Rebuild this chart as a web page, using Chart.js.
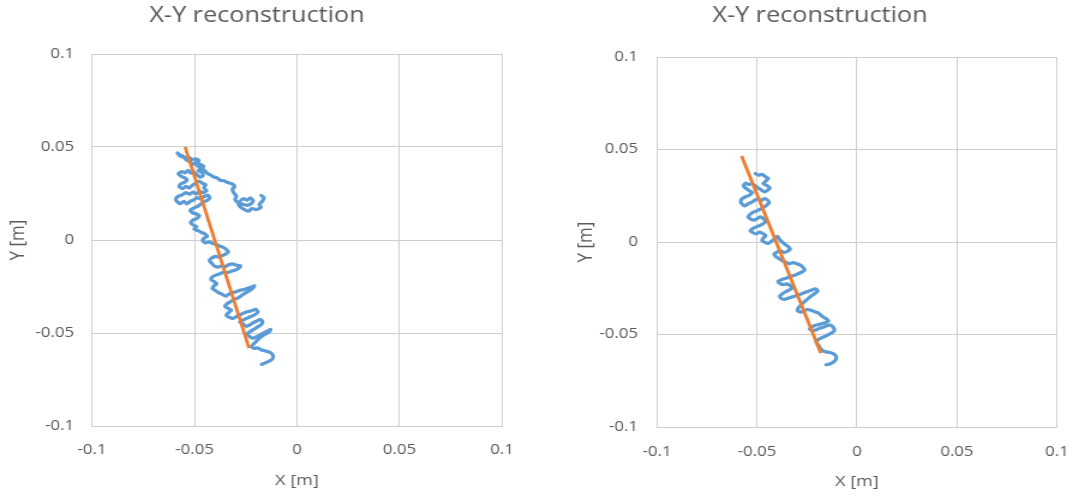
<!DOCTYPE html>
<html>
<head>
<meta charset="utf-8">
<script src="https://cdn.jsdelivr.net/npm/chart.js@4/dist/chart.umd.min.js"></script>
<style>
  html, body { margin: 0; padding: 0; background: #ffffff; }
  body { width: 1089px; height: 500px; position: relative; overflow: hidden; }
  .panel { position: absolute; top: 0; height: 500px; transform: scaleX(1.2); transform-origin: 0 0; }
  #panelA { left: 0; width: 450px; }
  #panelB { left: 545px; width: 453px; }
</style>
</head>
<body>
<div class="panel" id="panelA"><canvas id="chartA" width="450" height="500"></canvas></div>
<div class="panel" id="panelB"><canvas id="chartB" width="453" height="500"></canvas></div>
<script>
// Axis ticks (metres) and their labels
const tickValues = [-0.1, -0.05, 0, 0.05, 0.1];
const tickLabels = ['-0.1', '-0.05', '0', '0.05', '0.1'];
const chartTitle = 'X-Y reconstruction';
const xAxisTitle = 'X [m]';
const yAxisTitle = 'Y [m]';

// First run: reconstructed trajectory (millimetres)
const trackAX = [-17.5,-16.2,-16.8,-18.4,-17.6,-19.8,-22.1,-23.6,-25.4,-27.2,-28.5,-27.9,-26.1,-24.3,-22.8,-21.4,-22.6,-24.5,-26.8,-28.9,-30.2,-29.6,-30.8,-31.5,-30.4,-31.9,-33.8,-35.6,-37.4,-39.1,-40.7,-42.3,-43.8,-45.0,-46.4,-45.6,-47.1,-48.7,-47.9,-49.5,-51.3,-52.6,-54.2,-55.8,-57.4,-58.3,-57.0,-55.4,-54.1,-52.2,-50.8,-49.6,-48.5,-47.2,-48.1,-46.4,-45.9,-47.3,-48.9,-50.4,-51.8,-53.2,-54.6,-56.3,-57.9,-56.6,-55.0,-53.6,-54.9,-56.7,-57.5,-55.9,-54.2,-52.6,-51.1,-49.4,-47.8,-46.2,-44.6,-45.4,-44.1,-45.8,-47.5,-49.2,-50.8,-52.5,-54.3,-56.0,-57.8,-59.1,-58.4,-56.8,-55.2,-53.6,-52.0,-50.3,-48.7,-46.9,-45.2,-43.4,-42.6,-44.0,-45.7,-47.3,-48.8,-50.4,-52.1,-51.0,-49.3,-47.6,-48.9,-50.7,-51.9,-50.6,-49.0,-50.2,-48.4,-46.7,-45.1,-43.8,-45.4,-46.0,-44.5,-42.8,-41.1,-39.5,-37.8,-36.1,-34.6,-33.5,-34.9,-36.5,-38.2,-39.9,-41.6,-42.7,-41.5,-40.3,-38.6,-36.8,-35.0,-33.1,-31.4,-29.6,-27.6,-28.7,-30.4,-32.3,-34.2,-36.0,-37.9,-39.6,-41.3,-42.0,-40.4,-39.2,-40.6,-41.3,-39.8,-38.1,-36.4,-34.8,-33.2,-31.6,-29.7,-27.8,-25.9,-24.0,-22.1,-20.8,-21.9,-23.6,-25.4,-27.1,-28.9,-30.7,-32.4,-34.1,-35.2,-33.6,-32.0,-33.3,-34.5,-33.0,-31.2,-29.4,-27.6,-25.8,-23.9,-22.0,-20.2,-19.1,-20.6,-22.4,-24.3,-26.1,-27.9,-26.3,-24.7,-23.0,-21.4,-19.7,-18.0,-16.8,-17.6,-19.2,-20.9,-22.6,-24.2,-23.1,-21.5,-19.8,-18.1,-16.3,-14.5,-12.8,-13.9,-15.5,-17.2,-18.6,-19.9,-21.2,-22.3,-21.0,-19.3,-17.6,-15.8,-14.0,-12.4,-11.6,-12.2,-13.8,-15.5,-17.2];
const trackAY = [24.0,22.8,21.0,19.2,17.6,16.4,16.9,15.5,16.2,17.4,19.0,20.8,22.2,21.4,22.7,21.0,19.4,18.6,19.3,20.1,21.8,23.6,25.2,27.3,28.8,30.3,30.9,31.8,32.1,33.4,33.9,35.1,35.8,37.3,38.2,39.7,40.6,41.1,42.8,43.6,43.2,44.4,44.0,45.3,45.9,46.8,45.1,44.6,43.1,42.0,40.6,41.8,39.9,38.6,37.2,36.4,34.6,33.8,35.2,36.7,35.9,37.4,36.1,36.8,35.7,34.3,33.6,32.4,31.0,30.2,28.7,27.6,28.8,27.9,29.4,30.6,31.7,30.5,29.6,27.9,26.6,25.4,26.2,24.8,25.7,24.6,25.5,24.2,23.6,22.1,20.5,19.6,20.8,19.4,20.9,21.6,22.8,22.1,23.4,24.1,22.6,21.2,20.4,19.1,17.9,17.2,16.0,14.6,14.1,13.0,11.6,10.8,9.4,8.0,7.2,5.8,5.0,4.1,3.3,2.0,1.0,-0.4,-1.6,-1.0,-1.9,-2.4,-3.2,-3.9,-5.0,-6.4,-7.6,-8.4,-9.2,-8.8,-9.7,-11.2,-12.6,-14.0,-14.6,-13.9,-14.3,-13.2,-12.8,-13.5,-13.9,-15.4,-16.3,-16.9,-17.6,-17.4,-18.3,-18.9,-19.8,-21.3,-22.4,-23.6,-24.7,-26.1,-27.2,-28.4,-29.3,-30.2,-29.1,-28.3,-27.8,-27.0,-26.6,-25.9,-25.3,-24.6,-26.3,-27.5,-28.6,-29.9,-31.2,-32.0,-33.1,-34.2,-35.7,-36.8,-37.6,-39.0,-40.3,-41.6,-42.1,-41.0,-40.1,-39.2,-38.5,-37.9,-37.3,-38.8,-40.2,-41.1,-42.0,-42.9,-44.0,-45.2,-46.4,-45.6,-44.5,-43.6,-42.7,-43.9,-45.6,-46.7,-47.9,-49.0,-50.3,-51.9,-52.8,-52.0,-51.1,-50.0,-49.0,-48.1,-49.7,-50.6,-51.8,-53.1,-54.5,-55.9,-57.3,-58.3,-58.0,-59.0,-59.6,-60.1,-61.0,-62.6,-64.2,-65.3,-66.1,-66.8];
// First run: fitted line end points (millimetres)
const fitAX = [-54.6, -23.4];
const fitAY = [50.0, -58.1];

// Second run: reconstructed trajectory (millimetres)
const trackBX = [-50.8,-49.2,-47.5,-45.9,-44.3,-45.6,-46.9,-45.2,-43.6,-44.8,-46.4,-48.0,-49.6,-51.1,-52.6,-54.1,-55.7,-56.8,-55.5,-54.0,-52.4,-53.8,-55.4,-57.0,-58.1,-57.6,-56.0,-54.4,-52.8,-51.2,-49.6,-48.0,-46.4,-44.8,-43.9,-45.3,-46.8,-48.4,-50.1,-51.8,-53.4,-54.5,-53.1,-51.5,-49.8,-48.2,-46.6,-45.8,-47.3,-48.9,-50.5,-52.1,-53.4,-52.0,-50.4,-48.7,-47.1,-45.6,-46.8,-47.5,-46.0,-44.4,-42.8,-41.2,-39.7,-38.8,-37.5,-36.0,-34.6,-33.4,-34.8,-36.5,-38.2,-39.8,-41.4,-40.6,-39.0,-37.4,-35.6,-33.9,-32.1,-30.3,-28.6,-27.0,-26.2,-27.6,-29.3,-31.0,-32.7,-34.4,-36.2,-37.9,-39.5,-38.4,-36.8,-35.1,-33.4,-32.6,-34.0,-35.6,-37.2,-38.6,-37.8,-36.2,-34.5,-32.8,-31.1,-29.4,-27.7,-26.0,-24.3,-22.6,-20.8,-19.6,-20.9,-22.4,-23.9,-25.3,-26.7,-28.0,-29.2,-29.8,-28.2,-26.5,-24.8,-23.0,-21.3,-19.6,-18.2,-16.9,-15.4,-14.2,-15.6,-17.3,-19.0,-20.7,-22.4,-23.6,-22.0,-20.3,-18.6,-16.9,-15.1,-13.4,-11.8,-11.3,-12.7,-14.3,-16.0,-17.7,-19.4,-20.3,-19.2,-18.4,-17.1,-15.4,-13.6,-11.9,-10.6,-10.4,-11.5,-13.3,-15.4];
const trackBY = [37.0,36.1,36.6,35.4,34.3,33.0,31.6,30.6,29.4,27.9,27.1,28.2,29.3,30.5,31.6,31.0,31.9,30.3,29.0,27.8,26.7,25.3,24.6,23.8,22.3,20.6,19.5,20.7,21.4,22.5,23.4,22.4,23.5,22.7,21.2,19.8,18.6,17.7,16.9,16.1,15.0,13.6,12.4,11.8,12.7,13.6,12.4,10.8,9.6,8.8,8.2,7.3,6.1,5.0,4.4,5.3,4.6,3.5,2.2,0.8,-0.2,-0.8,0.4,1.7,3.0,1.5,0.1,-1.2,-2.3,-3.8,-5.0,-5.6,-4.8,-5.3,-6.3,-7.8,-8.9,-10.1,-10.9,-11.8,-11.1,-11.6,-12.4,-13.6,-15.2,-16.3,-17.1,-17.9,-18.5,-19.2,-19.8,-20.4,-21.3,-22.5,-23.0,-22.6,-23.6,-25.1,-26.0,-26.9,-27.9,-29.2,-30.6,-31.0,-30.4,-29.8,-29.3,-28.6,-28.0,-27.2,-26.6,-25.9,-25.3,-26.4,-27.7,-28.8,-30.1,-31.4,-32.7,-34.0,-35.4,-37.0,-37.9,-37.3,-36.5,-36.9,-37.6,-38.2,-39.4,-40.6,-41.5,-42.6,-43.6,-44.0,-44.6,-45.0,-45.8,-47.1,-47.9,-47.4,-46.6,-46.1,-45.3,-44.9,-46.2,-47.9,-49.2,-50.1,-51.0,-51.8,-52.8,-54.3,-55.8,-57.4,-58.8,-59.4,-59.7,-60.3,-61.5,-63.2,-64.7,-65.8,-66.4];
// Second run: fitted line end points (millimetres)
const fitBX = [-57.7, -18.1];
const fitBY = [46.5, -60.0];

const TEXT = '#595959';
const GRID = '#cfcfcf';
const BLUE = '#5b9bd5';
const ORANGE = '#ed7d31';
const FONT = "'Open Sans', 'Liberation Sans', sans-serif";

function toPoints(xs, ys) {
  return xs.map((x, i) => ({ x: x / 1000, y: ys[i] / 1000 }));
}

function fixedTicks(scale) {
  scale.ticks = tickValues.map(v => ({ value: v }));
}

function makeChart(id, track, fit, L) {
  new Chart(document.getElementById(id), {
    type: 'scatter',
    data: {
      datasets: [
        { data: fit, showLine: true, borderColor: ORANGE, borderWidth: 2.8,
          pointRadius: 0, order: 0 },
        { data: track, showLine: true, borderColor: BLUE, borderWidth: 3.2,
          pointRadius: 0, tension: 0.2, borderJoinStyle: 'round', borderCapStyle: 'round', order: 1 }
      ]
    },
    options: {
      responsive: false,
      animation: false,
      events: [],
      layout: { padding: { left: L.padLeft, right: L.padRight, top: 0, bottom: 0 } },
      plugins: {
        legend: { display: false },
        tooltip: { enabled: false },
        title: {
          display: true, text: chartTitle, color: TEXT,
          font: { family: FONT, size: 21, weight: 'normal', lineHeight: 1.2 },
          padding: { top: L.titleTop, bottom: L.titleBottom }
        }
      },
      scales: {
        x: {
          type: 'linear', min: -0.1, max: 0.1,
          afterBuildTicks: fixedTicks,
          afterFit: s => { s.height = L.xHeight; },
          grid: { color: GRID, lineWidth: 1, drawTicks: false, tickLength: 0 },
          border: { display: true, color: GRID, width: 1 },
          ticks: { color: TEXT, padding: L.xTickPad, maxRotation: 0,
                   font: { family: FONT, size: 14, lineHeight: 1.2 },
                   callback: (v, i) => tickLabels[i] },
          title: { display: true, text: xAxisTitle, color: TEXT,
                   font: { family: FONT, size: 15, lineHeight: 1.2 },
                   padding: { top: 0, bottom: L.xTitlePad } }
        },
        y: {
          type: 'linear', min: -0.1, max: 0.1,
          afterBuildTicks: fixedTicks,
          afterFit: s => { s.width = L.yWidth; },
          grid: { color: GRID, lineWidth: 1, drawTicks: false, tickLength: 0 },
          border: { display: true, color: GRID, width: 1 },
          ticks: { color: TEXT, padding: L.yTickPad,
                   font: { family: FONT, size: 14, lineHeight: 1.2 },
                   callback: (v, i) => tickLabels[i] },
          title: { display: true, text: yAxisTitle, color: TEXT,
                   font: { family: FONT, size: 17, lineHeight: 1.2 },
                   padding: { top: L.yTitlePad, bottom: 0 } }
        }
      }
    }
  });
}

makeChart('chartA', toPoints(trackAX, trackAY), toPoints(fitAX, fitAY), {
  padLeft: 10, padRight: 31.67, titleTop: 3, titleBottom: 25.8,
  xHeight: 74, yWidth: 66.67, xTickPad: 15.6, yTickPad: 15, xTitlePad: 10, yTitlePad: -5.2
});

makeChart('chartB', toPoints(trackBX, trackBY), toPoints(fitBX, fitBY), {
  padLeft: 24.17, padRight: 18.83, titleTop: 3.5, titleBottom: 28.3,
  xHeight: 73, yWidth: 69.17, xTickPad: 16.6, yTickPad: 15.8, xTitlePad: 9, yTitlePad: -0.2
});
</script>
</body>
</html>
